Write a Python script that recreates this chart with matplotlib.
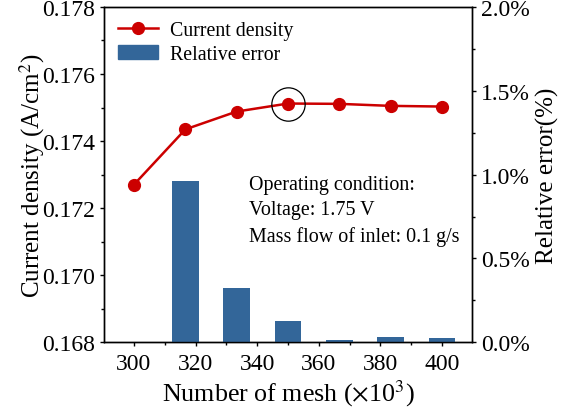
import numpy as np
import matplotlib
matplotlib.use("Agg")
import matplotlib.pyplot as plt
from matplotlib.ticker import MultipleLocator, FormatStrFormatter
from matplotlib.patches import Patch

plt.rcParams['font.family'] = ['Liberation Serif', 'DejaVu Serif']
plt.rcParams['mathtext.fontset'] = 'stix'

# mesh count (x10^3)
mesh = [300, 316.7, 333.3, 350, 366.7, 383.3, 400]
current_density = [0.17270, 0.17435, 0.17488, 0.17512, 0.17511, 0.17505, 0.17503]

# relative error (%) between neighbouring meshes
err_mesh = [316.7, 333.3, 350, 366.7, 383.3, 400]
rel_error = [0.961, 0.322, 0.125, 0.014, 0.034, 0.024]

red = '#CC0000'
blue = '#336699'

fig = plt.figure(figsize=(5.76, 4.14), dpi=100)
ax = fig.add_axes([0.1806, 0.1708, 0.6388, 0.8100])
ax2 = ax.twinx()

ax.plot(mesh, current_density, color=red, lw=1.8, marker='o', ms=8.5,
        label='Current density', zorder=3)
# highlight the chosen mesh
ax.plot(mesh[3], current_density[3], marker='o', ms=24, mfc='none',
        mec='black', mew=0.9, zorder=4)

ax2.bar(err_mesh, rel_error, width=8.7, color=blue, label='Relative error')

ax.set_xlim(290.3, 409.7)
ax.set_ylim(0.168, 0.178)
ax2.set_ylim(0, 2.0)

ax.xaxis.set_major_locator(MultipleLocator(20))
ax.xaxis.set_minor_locator(MultipleLocator(10))
ax.yaxis.set_major_locator(MultipleLocator(0.002))
ax.yaxis.set_minor_locator(MultipleLocator(0.001))
ax.yaxis.set_major_formatter(FormatStrFormatter('%.3f'))
ax2.yaxis.set_major_locator(MultipleLocator(0.5))
ax2.yaxis.set_minor_locator(MultipleLocator(0.25))
ax2.yaxis.set_major_formatter(FormatStrFormatter('%.1f%%'))

for a in (ax, ax2):
    a.tick_params(which='major', direction='out', length=3, width=1, labelsize=17)
    a.tick_params(which='minor', direction='out', length=2, width=1)
    for s in a.spines.values():
        s.set_linewidth(1.0)
ax.tick_params(axis='x', which='major', pad=5)

ax.set_xlabel('Number of mesh ($\\times$10$^3$)', fontsize=18.7, labelpad=2)
ax.set_ylabel('Current density (A/cm$^2$)', fontsize=18, labelpad=-3.5)
ax2.set_ylabel('Relative error(%)', fontsize=18, labelpad=4)

handles = [ax.get_lines()[0], Patch(color=blue)]
ax2.legend(handles, ['Current density', 'Relative error'], loc='upper left',
           frameon=False, fontsize=14.3, handlelength=2.0, labelspacing=0.25,
           borderaxespad=0.3, handletextpad=0.6)

ax.text(0.395, 0.50, 'Operating condition:\nVoltage: 1.75 V\nMass flow of inlet: 0.1 g/s',
        transform=ax.transAxes, fontsize=14.4, va='top', ha='left', linespacing=1.45)

fig.savefig('out.png', dpi=100)
